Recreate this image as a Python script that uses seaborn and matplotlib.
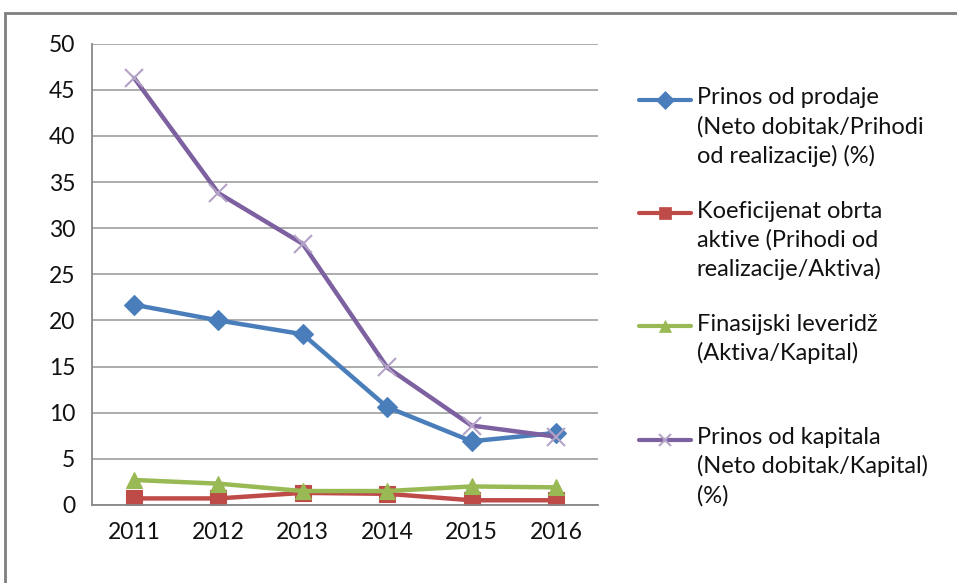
import numpy as np
import pandas as pd
import matplotlib.pyplot as plt
import seaborn as sns
from matplotlib.lines import Line2D
from matplotlib.patches import Rectangle

years = ["2011", "2012", "2013", "2014", "2015", "2016"]
prinos_prodaje = [21.7, 20.0, 18.5, 10.6, 6.9, 7.8]
koef_obrta = [0.7, 0.7, 1.3, 1.2, 0.5, 0.5]
fin_leveridz = [2.7, 2.3, 1.5, 1.5, 2.0, 1.9]
prinos_kapitala = [46.3, 33.8, 28.3, 14.9, 8.6, 7.4]

labels = [
    "Prinos od prodaje\n(Neto dobitak/Prihodi\nod realizacije) (%)",
    "Koeficijenat obrta\naktive (Prihodi od\nrealizacije/Aktiva)",
    "Finasijski leveridž\n(Aktiva/Kapital)",
    "Prinos od kapitala\n(Neto dobitak/Kapital)\n(%)",
]
colors = ["#4a7ebb", "#be4b48", "#98b954", "#7d60a0"]
markers = ["D", "s", "^", "x"]
msizes = [10, 11, 12, 13]
series = [prinos_prodaje, koef_obrta, fin_leveridz, prinos_kapitala]

sns.set_style("white")
plt.rcParams["font.family"] = ["Lato", "DejaVu Sans"]

fig = plt.figure(figsize=(9.57, 5.83), dpi=100)
ax = fig.add_axes([0.096, 0.134, 0.529, 0.791])

xs = np.arange(len(years))
for vals, c, m, ms in zip(series, colors, markers, msizes):
    df = pd.DataFrame({"x": xs, "y": vals})
    mec = "#b3a2c7" if m == "x" else c
    sns.lineplot(data=df, x="x", y="y", ax=ax, color=c, linewidth=3.2,
                 marker=m, markersize=ms, markeredgecolor=mec,
                 markeredgewidth=1.5 if m == "x" else 0.8)

ax.set_xlim(-0.5, 5.5)
ax.set_ylim(0, 50)
ax.set_yticks(range(0, 51, 5))
ax.set_xticks(xs)
ax.set_xticklabels(years)
ax.set_xticks(np.arange(-0.5, 6, 1), minor=True)
ax.tick_params(axis="x", which="major", length=0, labelsize=16.5, pad=12,
               labelcolor="#111111")
ax.tick_params(axis="x", which="minor", length=6, color="#888888", direction="out")
ax.tick_params(axis="y", length=6, color="#888888", direction="out", labelsize=16.5,
               pad=6, labelcolor="#111111")
ax.set_xlabel("")
ax.set_ylabel("")
ax.yaxis.grid(True, color="#a6a6a6", linewidth=1.3)
ax.xaxis.grid(False)
for s in ["top", "right"]:
    ax.spines[s].set_visible(False)
for s in ["left", "bottom"]:
    ax.spines[s].set_color("#888888")
    ax.spines[s].set_linewidth(1.3)

# legend drawn manually so handles line up with the first text line
tops = [0.850, 0.656, 0.462, 0.268]
for lab, c, m, ty in zip(labels, colors, markers, tops):
    yl = ty - 0.022
    mec = "#b3a2c7" if m == "x" else c
    fig.add_artist(Line2D([0.668, 0.722], [yl, yl], transform=fig.transFigure,
                          color=c, linewidth=3))
    fig.add_artist(Line2D([0.695], [yl], transform=fig.transFigure, color=c,
                          marker=m, markersize=9, markeredgecolor=mec,
                          markeredgewidth=1.5 if m == "x" else 0.5))
    fig.text(0.728, ty, lab, fontsize=17, va="top", ha="left",
             linespacing=1.42, color="#111111")

fig.add_artist(Rectangle((0.005, -0.1), 1.2, 1.077, transform=fig.transFigure,
                         fill=False, edgecolor="#7f7f7f", linewidth=2))

fig.savefig("out.png", dpi=100)
